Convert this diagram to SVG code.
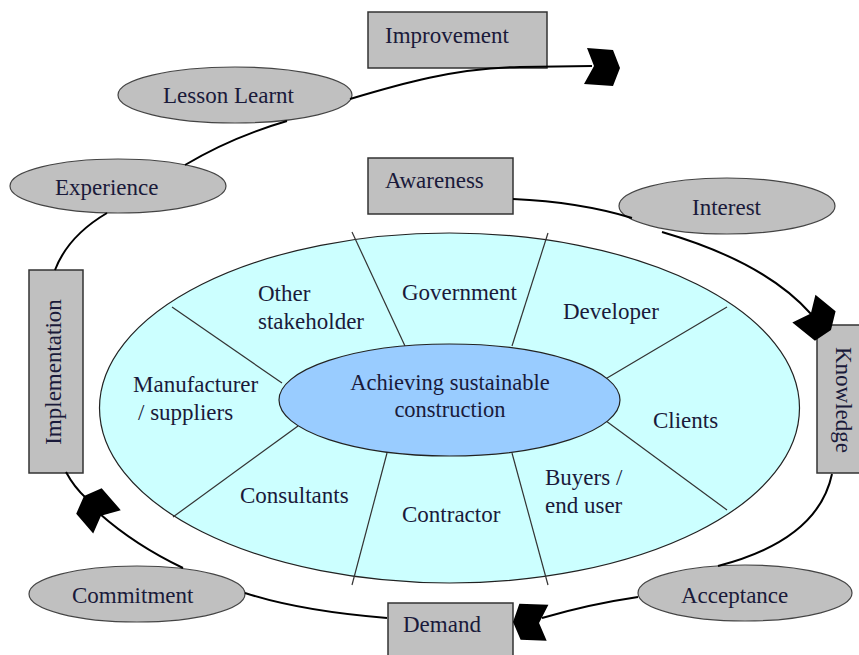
<svg xmlns="http://www.w3.org/2000/svg" width="859" height="655" viewBox="0 0 859 655">
<style>
  text { font-family: "Liberation Serif", "Times New Roman", serif; font-size: 23px; fill: #1a1a3a; }
  .box { fill: #c0c0c0; stroke: #333; stroke-width: 1.5; }
  .oval { fill: #c0c0c0; stroke: #444; stroke-width: 1.2; }
  .conn { fill: none; stroke: #000; stroke-width: 2; }
  .spoke { stroke: #333; stroke-width: 1.2; fill: none; }
  .arrow { fill: #000; }
</style>
<defs>
  <path id="chev" d="M-33,-20 L-7,-18 L0,0 L-7,18 L-36,16 L-26,-2 Z"/>
</defs>
<rect width="859" height="655" fill="#fff"/>

<g id="stakeholders">
  <ellipse cx="449.5" cy="408" rx="350" ry="175" fill="#ccffff" stroke="#222" stroke-width="1.2"/>
  <line class="spoke" x1="172" y1="307" x2="282" y2="383"/>
  <line class="spoke" x1="352" y1="232" x2="405" y2="346"/>
  <line class="spoke" x1="548" y1="233" x2="512" y2="346"/>
  <line class="spoke" x1="727" y1="307" x2="602" y2="381"/>
  <line class="spoke" x1="602" y1="418" x2="727" y2="510"/>
  <line class="spoke" x1="512" y1="453" x2="548" y2="585"/>
  <line class="spoke" x1="387" y1="453" x2="352" y2="585"/>
  <line class="spoke" x1="298" y1="426" x2="173" y2="517"/>
  <text x="258" y="301">Other</text>
  <text x="258" y="329">stakeholder</text>
  <text x="402" y="300">Government</text>
  <text x="563" y="319">Developer</text>
  <text x="133" y="392">Manufacturer</text>
  <text x="138" y="420">/ suppliers</text>
  <text x="653" y="428">Clients</text>
  <text x="545" y="485">Buyers /</text>
  <text x="545" y="513">end user</text>
  <text x="402" y="522">Contractor</text>
  <text x="240" y="503">Consultants</text>
</g>

<g id="center">
  <ellipse cx="449.5" cy="400" rx="170.5" ry="56" fill="#99ccff" stroke="#222" stroke-width="1.2"/>
  <text x="450" y="390" text-anchor="middle" style="font-size:22.5px">Achieving sustainable</text>
  <text x="450" y="417" text-anchor="middle" style="font-size:22.5px">construction</text>
</g>

<g id="improvement"><rect class="box" x="368" y="12" width="179" height="56"/><text x="385" y="43">Improvement</text></g>
<g id="lesson"><ellipse class="oval" cx="235" cy="95" rx="117" ry="28"/><text x="163" y="103">Lesson Learnt</text></g>
<g id="experience"><ellipse class="oval" cx="118" cy="186" rx="108" ry="27"/><text x="55" y="195">Experience</text></g>
<g id="awareness"><rect class="box" x="368" y="158" width="145" height="56"/><text x="385" y="188">Awareness</text></g>
<g id="interest"><ellipse class="oval" cx="727" cy="206" rx="108" ry="28"/><text x="692" y="215">Interest</text></g>
<g id="knowledge"><rect class="box" x="817" y="325" width="50" height="148"/><text transform="translate(836,400) rotate(90)" text-anchor="middle">Knowledge</text></g>
<g id="acceptance"><ellipse class="oval" cx="745" cy="593" rx="107" ry="28"/><text x="681" y="603">Acceptance</text></g>
<g id="demand"><rect class="box" x="388" y="603" width="125" height="60"/><text x="403" y="632">Demand</text></g>
<g id="commitment"><ellipse class="oval" cx="137" cy="594" rx="108" ry="28"/><text x="72" y="603">Commitment</text></g>
<g id="implementation"><rect class="box" x="29" y="270" width="54" height="203"/><text transform="translate(61,372) rotate(-90)" text-anchor="middle">Implementation</text></g>

<g id="connectors">
  <path class="conn" d="M55,270 Q68,236 107,213"/>
  <path class="conn" d="M185,165 Q232,137 287,121"/>
  <path class="conn" d="M350,99 C400,84 455,68 520,67 L592,66"/>
  <path class="conn" d="M513,199 Q580,202 632,218"/>
  <path class="conn" d="M662,232 Q765,262 811,314"/>
  <path class="conn" d="M832,474 Q818,540 718,566"/>
  <path class="conn" d="M638,597 Q590,604 542,618"/>
  <path class="conn" d="M387,618 Q300,611 245,593"/>
  <path class="conn" d="M183,568 Q135,545 100,514"/>
  <path class="conn" d="M86,498 Q74,487 66,472"/>
  <use href="#chev" class="arrow" transform="translate(620,68)"/>
  <use href="#chev" class="arrow" transform="translate(831,330) rotate(35)"/>
  <use href="#chev" class="arrow" transform="translate(513,622) rotate(178)"/>
  <use href="#chev" class="arrow" transform="translate(84,496) rotate(225)"/>
</g>
</svg>
